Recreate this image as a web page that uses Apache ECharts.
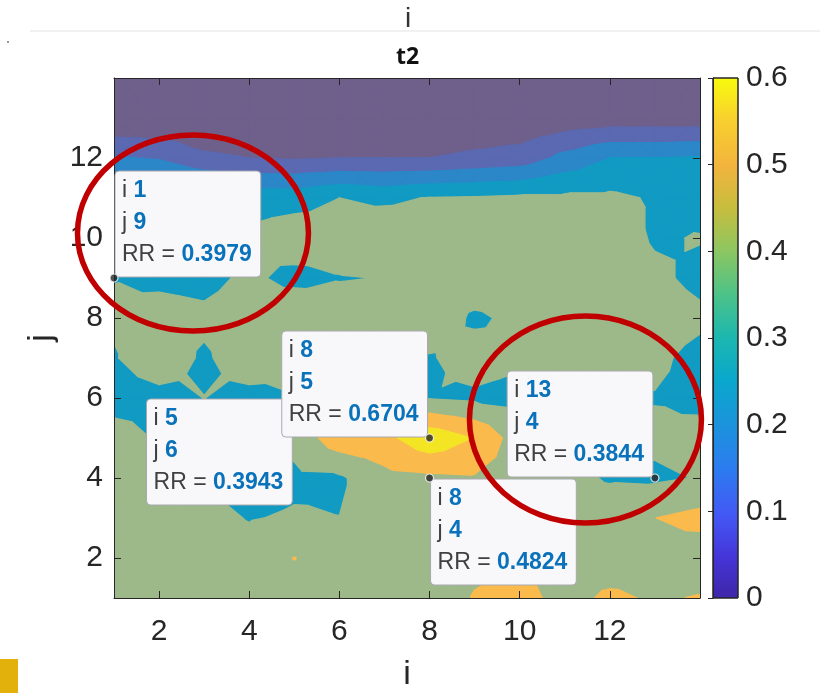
<!DOCTYPE html>
<html><head><meta charset="utf-8">
<script src="https://cdn.jsdelivr.net/npm/echarts@6/dist/echarts.min.js"></script>
<style>html,body{margin:0;padding:0;background:#fff}#c{width:820px;height:693px}</style>
</head><body><div id="c"></div>
<script>
// ---------- data ----------
const iValues = [1,2,3,4,5,6,7,8,9,10,11,12,13,14];
const jValues = [1,2,3,4,5,6,7,8,9,10,11,12,13,14];
// RR values, one array per row j (index = i-1)
const rr_j1  = [0.46,0.46,0.46,0.46,0.46,0.46,0.45,0.45,0.505,0.53,0.47,0.515,0.49,0.505];
const rr_j2  = [0.46,0.45,0.45,0.44,0.502,0.45,0.45,0.45,0.48,0.49,0.46,0.45,0.46,0.44];
const rr_j3  = [0.45,0.45,0.43,0.395,0.41,0.401,0.45,0.46,0.47,0.46,0.45,0.46,0.499,0.53];
const rr_j4  = [0.46,0.43,0.39,0.36,0.38,0.385,0.47,0.4824,0.49,0.45,0.43,0.39,0.3844,0.405];
const rr_j5  = [0.44,0.39,0.38,0.37,0.43,0.56,0.57,0.6704,0.595,0.44,0.42,0.41,0.42,0.44];
const rr_j6  = [0.36,0.37,0.401,0.37,0.3943,0.37,0.38,0.395,0.38,0.36,0.38,0.40,0.395,0.37];
const rr_j7  = [0.393,0.46,0.385,0.46,0.42,0.42,0.40,0.39,0.45,0.42,0.44,0.44,0.42,0.37];
const rr_j8  = [0.412,0.437,0.422,0.45,0.49,0.45,0.45,0.48,0.38,0.43,0.46,0.46,0.45,0.42];
const rr_j9  = [0.3979,0.38,0.37,0.42,0.37,0.395,0.402,0.46,0.48,0.47,0.46,0.45,0.42,0.375];
const rr_j10 = [0.41,0.43,0.43,0.42,0.46,0.45,0.48,0.47,0.47,0.47,0.46,0.45,0.39,0.405];
const rr_j11 = [0.43,0.41,0.38,0.36,0.36,0.40,0.38,0.405,0.41,0.42,0.42,0.42,0.39,0.36];
const rr_j12 = [0.21,0.19,0.12,0.10,0.09,0.10,0.10,0.10,0.12,0.14,0.23,0.30,0.30,0.31];
const rr_j13 = [0.00,0.00,0.00,0.00,0.00,0.00,0.00,0.01,0.02,0.02,0.03,0.04,0.04,0.04];
const rr_j14 = [0.02,0.02,0.01,0.01,0.01,0.01,0.01,0.02,0.02,0.02,0.02,0.03,0.03,0.03];
const rrRows = [rr_j1,rr_j2,rr_j3,rr_j4,rr_j5,rr_j6,rr_j7,rr_j8,rr_j9,rr_j10,rr_j11,rr_j12,rr_j13,rr_j14];

const contourLevels = [0,0.1,0.2,0.3,0.4,0.5,0.6];
const xTickValues = [2,4,6,8,10,12];
const yTickValues = [2,4,6,8,10,12];
const cbTickValues = [0,0.1,0.2,0.3,0.4,0.5,0.6];

// data tips
const tipI  = [1,5,8,13,8];
const tipJ  = [9,6,5,4,4];
const tipRR = [0.3979,0.3943,0.6704,0.3844,0.4824];

// ---------- styles ----------
const bandColors = ['#6e5f8b','#5a69b1','#2b87c7','#119bc3','#9db98a','#fbba4c','#f3e524'];
const parulaStops = [
  [0.00,'#3e26a8'],[0.08,'#4535d8'],[0.16,'#4358f5'],[0.25,'#2c7cef'],[0.33,'#1c92dd'],
  [0.42,'#0aa8cc'],[0.50,'#1cb7b0'],[0.58,'#4ac289'],[0.67,'#8fc660'],[0.75,'#c7bd3e'],
  [0.83,'#f2b43d'],[0.92,'#f8d02e'],[1.00,'#f9fb0e']];
// tip box placement: [horizontal side, vertical side]
const tipPlace = [['right','up'],['left','down'],['left','up'],['left','up'],['right','down']];
const FONT = '"Liberation Sans", Arial, sans-serif';
const AX = '#262626';
const TIP_FS = 23, TIP_LH = 32, TIP_PAD = [4, 9, 6, 7]; // top right bottom left

function clipPoly(poly, level) {
  const out = [];
  for (let k = 0; k < poly.length; k++) {
    const a = poly[k], b = poly[(k + 1) % poly.length];
    const ina = a[2] >= level, inb = b[2] >= level;
    if (ina) out.push(a);
    if (ina !== inb) {
      const t = (level - a[2]) / (b[2] - a[2]);
      out.push([a[0] + t * (b[0] - a[0]), a[1] + t * (b[1] - a[1]), level]);
    }
  }
  return out;
}

function contourItem(params, api) {
  const k = params.dataIndex;
  const lv = contourLevels[k];
  const col = bandColors[k];
  const children = [];
  for (let a = 0; a < iValues.length - 1; a++) {
    for (let b = 0; b < jValues.length - 1; b++) {
      const x0 = iValues[a], x1 = iValues[a + 1], y0 = jValues[b], y1 = jValues[b + 1];
      const p00 = [x0, y0, rrRows[b][a]], p10 = [x1, y0, rrRows[b][a + 1]];
      const p01 = [x0, y1, rrRows[b + 1][a]], p11 = [x1, y1, rrRows[b + 1][a + 1]];
      const c = [(x0 + x1) / 2, (y0 + y1) / 2, (p00[2] + p10[2] + p01[2] + p11[2]) / 4];
      const tris = [[p00, p10, c], [p10, p11, c], [p11, p01, c], [p01, p00, c]];
      for (const t of tris) {
        const poly = clipPoly(t, lv);
        if (poly.length >= 3) {
          children.push({
            type: 'polygon',
            shape: { points: poly.map(p => api.coord([p[0], p[1]])) },
            style: { fill: col, stroke: col, lineWidth: 1.3, lineJoin: 'round' }
          });
        }
      }
    }
  }
  return { type: 'group', children };
}

function colorbarItem(params, api) {
  const p0 = api.coord([0, cbTickValues[cbTickValues.length - 1]]);
  const p1 = api.coord([1, cbTickValues[0]]);
  return {
    type: 'rect',
    shape: { x: p0[0], y: p0[1], width: p1[0] - p0[0], height: p1[1] - p0[1] },
    style: {
      fill: new echarts.graphic.LinearGradient(0, 1, 0, 0, parulaStops.map(s => ({ offset: s[0], color: s[1] }))),
      stroke: AX, lineWidth: 1
    }
  };
}

const chart = echarts.init(document.getElementById('c'), null, { renderer: 'canvas' });

const tickLabel = { color: AX, fontSize: 30, fontFamily: FONT };
const mainAxisCommon = {
  type: 'value', min: 1, max: 14, z: 5,
  axisLine: { show: true, onZero: false, lineStyle: { color: AX, width: 1 } },
  splitLine: { show: false }
};

const option = {
  animation: false,
  backgroundColor: '#fff',
  title: {
    text: 't2', left: 391, top: 41,
    textStyle: { fontSize: 23, fontWeight: 'bold', color: '#111', fontFamily: '"Open Sans", sans-serif' }
  },
  grid: [
    { left: 114, top: 78, width: 586, height: 520, outerBoundsMode: 'none', containLabel: false },
    { left: 713, top: 78, width: 25, height: 520, outerBoundsMode: 'none', containLabel: false }
  ],
  xAxis: [
    Object.assign({}, mainAxisCommon, {
      gridIndex: 0, position: 'bottom',
      name: 'i', nameLocation: 'middle', nameGap: 60,
      nameTextStyle: { color: AX, fontSize: 34, fontFamily: FONT },
      axisTick: { show: true, inside: true, length: 7, customValues: xTickValues, lineStyle: { color: AX } },
      axisLabel: Object.assign({ margin: 19, customValues: xTickValues }, tickLabel)
    }),
    Object.assign({}, mainAxisCommon, {
      gridIndex: 0, position: 'top',
      axisTick: { show: true, inside: true, length: 7, customValues: xTickValues, lineStyle: { color: AX } },
      axisLabel: { show: false }
    }),
    { type: 'value', gridIndex: 1, min: 0, max: 1, show: false }
  ],
  yAxis: [
    Object.assign({}, mainAxisCommon, {
      gridIndex: 0, position: 'left',
      name: 'j', nameLocation: 'middle', nameGap: 50,
      nameTextStyle: { color: AX, fontSize: 34, fontFamily: FONT },
      axisTick: { show: true, inside: true, length: 7, customValues: yTickValues, lineStyle: { color: AX } },
      axisLabel: Object.assign({ margin: 11, customValues: yTickValues }, tickLabel)
    }),
    Object.assign({}, mainAxisCommon, {
      gridIndex: 0, position: 'right',
      axisTick: { show: true, inside: true, length: 7, customValues: yTickValues, lineStyle: { color: AX } },
      axisLabel: { show: false }
    }),
    {
      type: 'value', gridIndex: 1, position: 'right', min: 0, max: 0.6, interval: 0.1, z: 5,
      axisLine: { show: true, lineStyle: { color: AX } },
      axisTick: { show: true, inside: true, length: 5, lineStyle: { color: AX } },
      splitLine: { show: false },
      axisLabel: Object.assign({ margin: 8 }, tickLabel)
    }
  ],
  series: [
    {
      type: 'custom', name: 'RR', xAxisIndex: 0, yAxisIndex: 0, clip: true, silent: true,
      data: contourLevels.map((l, k) => [k]), encode: { x: -1, y: -1 },
      renderItem: contourItem, z: 2
    },
    {
      type: 'custom', name: 'colorbar', xAxisIndex: 2, yAxisIndex: 2, silent: true,
      data: [[0]], encode: { x: -1, y: -1 }, renderItem: colorbarItem, z: 2
    },
    {
      type: 'scatter', name: 'hiddenTip', xAxisIndex: 0, yAxisIndex: 0, z: 3,
      symbolSize: 8, itemStyle: { color: AX, borderColor: '#fff', borderWidth: 1.2 },
      data: [[tipI[1], tipJ[1]]]
    },
    {
      type: 'scatter', name: 'tips', xAxisIndex: 0, yAxisIndex: 0, z: 60,
      symbolSize: 8, itemStyle: { color: AX, borderColor: '#fff', borderWidth: 1.2 },
      data: [0, 2, 3, 4].map(k => [tipI[k], tipJ[k]])
    }
  ]
};
chart.setOption(option);

// ---------- annotations positioned through the chart's scales ----------
const mctx = document.createElement('canvas').getContext('2d');
function textW(str, bold) {
  mctx.font = (bold ? 'bold ' : '') + TIP_FS + 'px ' + FONT;
  return mctx.measureText(str).width;
}
const g = [];
const ellipseC = [[2.752, 10.125, 2.562, 2.45], [11.459, 5.4625, 2.573, 2.5875]];
tipI.forEach((iv, k) => {
  const p = chart.convertToPixel({ gridIndex: 0 }, [iv, tipJ[k]]);
  const pl = tipPlace[k];
  const right = pl[0] === 'right', up = pl[1] === 'up';
  const lines = [['i ', String(iv)], ['j ', String(tipJ[k])], ['RR = ', tipRR[k].toFixed(4)]];
  const w = Math.max.apply(null, lines.map(l => textW(l[0], false) + textW(l[1], true))) + TIP_PAD[1] + TIP_PAD[3];
  const h = lines.length * TIP_LH + TIP_PAD[0] + TIP_PAD[2];
  const bx = right ? p[0] + 1 : p[0] - 2 - w;
  const by = up ? p[1] - 1 - h : p[1] + 1;
  g.push({
    type: 'group', z: 50, x: bx, y: by,
    children: [
      { type: 'rect', z: 50, shape: { x: 0, y: 0, width: w, height: h, r: 4 },
        style: { fill: '#f8f8fb', stroke: '#a8a8ae', lineWidth: 1 } },
      { type: 'text', z: 51, x: TIP_PAD[3], y: TIP_PAD[0],
        style: {
          text: lines.map(l => '{n|' + l[0] + '}{b|' + l[1] + '}').join('\n'),
          align: 'left', verticalAlign: 'top',
          rich: {
            n: { fontSize: TIP_FS, fill: '#404040', fontFamily: FONT, lineHeight: TIP_LH },
            b: { fontSize: TIP_FS, fill: '#0a72ba', fontWeight: 'bold', fontFamily: FONT, lineHeight: TIP_LH }
          }
        } }
    ]
  });
});
ellipseC.forEach(e => {
  const c = chart.convertToPixel({ gridIndex: 0 }, [e[0], e[1]]);
  const r = chart.convertToPixel({ gridIndex: 0 }, [e[0] + e[2], e[1] + e[3]]);
  g.push({
    type: 'ellipse', z: 70, silent: true,
    shape: { cx: c[0], cy: c[1], rx: Math.abs(r[0] - c[0]), ry: Math.abs(r[1] - c[1]) },
    style: { fill: 'none', stroke: '#c00000', lineWidth: 5.5 }
  });
});
// page decorations from the screenshot
g.push({ type: 'text', z: 1, x: 408, y: 19, style: { text: 'i', fontSize: 28, fill: '#333', fontFamily: FONT, align: 'center', verticalAlign: 'middle' } });
g.push({ type: 'line', z: 1, shape: { x1: 30, y1: 31, x2: 820, y2: 31 }, style: { stroke: '#f1f1f1', lineWidth: 2 } });
g.push({ type: 'rect', z: 1, shape: { x: 7, y: 41, width: 2, height: 2 }, style: { fill: '#999' } });
g.push({ type: 'rect', z: 1, shape: { x: 0, y: 659, width: 18, height: 34 }, style: { fill: '#e3b10c' } });
chart.setOption({ graphic: g });
</script></body></html>
